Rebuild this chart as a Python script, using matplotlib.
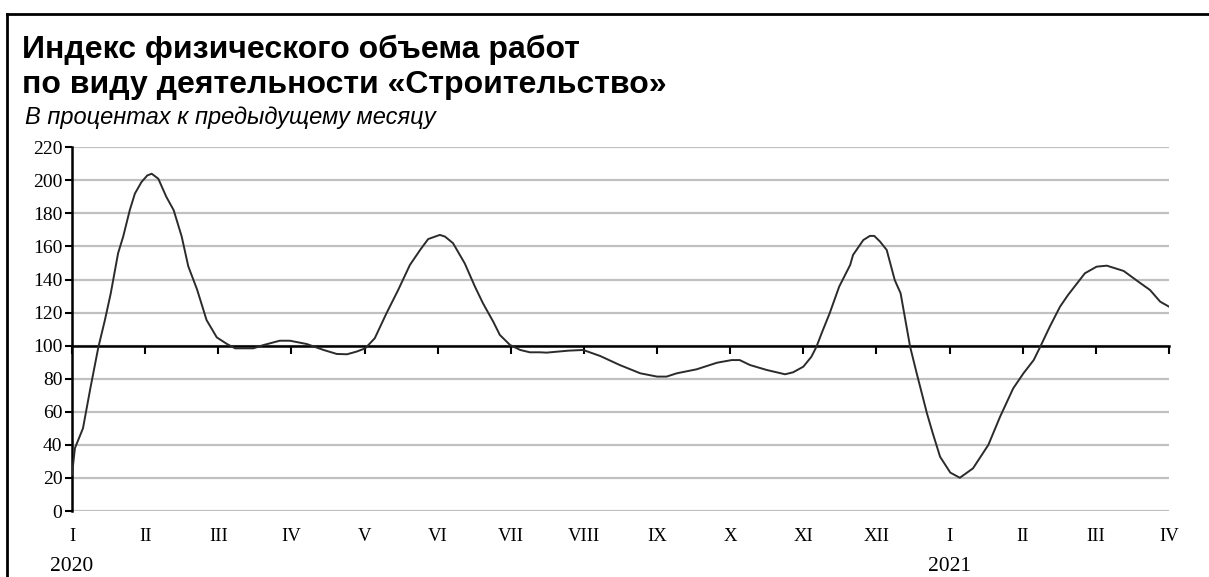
import numpy as np
import matplotlib
matplotlib.use("Agg")
import matplotlib.pyplot as plt
from matplotlib.lines import Line2D

# months since January 2020 (0 = I 2020, 15 = IV 2021) and index values
t = [0.00, 0.04, 0.15, 0.25, 0.36, 0.45, 0.53, 0.63, 0.70, 0.79, 0.86, 0.95,
     1.03, 1.09, 1.18, 1.29, 1.39, 1.50, 1.59, 1.71, 1.84, 1.98, 2.12, 2.23,
     2.48, 2.62, 2.84, 2.98, 3.21, 3.44, 3.62, 3.76, 3.89, 4.01, 4.14, 4.30,
     4.46, 4.62, 4.76, 4.87, 5.03, 5.10, 5.21, 5.37, 5.51, 5.62, 5.76, 5.85,
     5.99, 6.13, 6.26, 6.40, 6.49, 6.79, 6.99, 7.22, 7.49, 7.77, 8.00, 8.13,
     8.27, 8.54, 8.82, 9.02, 9.13, 9.27, 9.50, 9.75, 9.86, 10.00, 10.11, 10.18,
     10.25, 10.36, 10.49, 10.64, 10.68, 10.82, 10.91, 10.97, 11.05, 11.14, 11.25, 11.33,
     11.46, 11.55, 11.69, 11.77, 11.87, 12.01, 12.14, 12.32, 12.53, 12.69, 12.87, 13.01,
     13.15, 13.24, 13.37, 13.51, 13.62, 13.85, 14.01, 14.15, 14.38, 14.60, 14.74, 14.88,
     15.00]
values = [22, 38, 50, 74, 99, 115.5, 131.7, 155.9, 166, 182, 192, 199,
          203, 204, 201, 190, 182, 166, 148, 134, 115.5, 105, 101, 98.4,
          98.4, 100.4, 103, 103, 101, 97.4, 95, 94.8, 96.4, 98.4, 104.5, 119.6,
          133.7, 148.8, 157.9, 164.5, 167, 166, 162, 149.8, 135.7, 125.6, 114.5, 106.5,
          100.4, 97.4, 96, 96, 95.8, 97, 97.4, 93.8, 88.3, 83.3, 81.3, 81.3,
          83.3, 85.7, 89.7, 91.3, 91.3, 88.3, 85.3, 82.7, 83.9, 87.3, 93.3, 99.4,
          107.5, 119.6, 135.7, 148.8, 154.9, 163.9, 166.4, 166.4, 162.9, 157.9, 139.7, 131.7,
          99.4, 83.3, 59.1, 47, 32.8, 23.2, 20.1, 25.8, 40, 57, 74.2, 83.3,
          91.3, 99.4, 111.5, 123.6, 130.7, 143.8, 147.8, 148.4, 145.2, 138.1, 133.7, 126.6,
          123.6]

month_labels = ["I", "II", "III", "IV", "V", "VI", "VII", "VIII", "IX", "X", "XI", "XII",
                "I", "II", "III", "IV"]
year_labels = ["2020", "2021"]
year_pos = [0, 12]

serif = "Liberation Serif"
sans = "Liberation Sans"

fig = plt.figure(figsize=(12.09, 5.77), dpi=100)
ax = fig.add_axes([72 / 1209, 66 / 577, (1169 - 72) / 1209, (511 - 147.3) / 577])

ax.set_xlim(0, 15)
ax.set_ylim(0, 220)

# horizontal grid
ax.set_yticks(np.arange(0, 221, 20))
ax.yaxis.grid(True, color="#c0c0c0", linewidth=1.6)
ax.set_axisbelow(True)
ax.tick_params(axis="y", direction="out", length=5, width=1.5, pad=2,
               labelsize=14, labelfontfamily=serif)

# x axis line sits at 100 with ticks, no labels there
for s in ["top", "right"]:
    ax.spines[s].set_visible(False)
ax.spines["left"].set_linewidth(1.8)
ax.spines["bottom"].set_position(("data", 100))
ax.spines["bottom"].set_linewidth(1.8)
ax.set_xticks(range(16))
ax.tick_params(axis="x", direction="out", length=6, width=1.5, labelbottom=False)

sec = ax.secondary_xaxis("bottom")
sec.set_xticks(range(16))
sec.set_xticklabels(month_labels, fontfamily=serif, fontsize=13.5)
sec.tick_params(length=0, pad=12)
sec.spines["bottom"].set_visible(False)

for pos, lab in zip(year_pos, year_labels):
    ax.text(pos, -0.152, lab, transform=ax.get_xaxis_transform(), ha="center", va="center",
            fontfamily=serif, fontsize=15.5)

ax.plot(t, values, color="#2b2b2b", linewidth=1.4, zorder=3)

# titles
fig.text(22 / 1209, 1 - 58 / 577, "Индекс физического объема работ", fontfamily=sans,
         fontweight="bold", fontsize=23, ha="left", va="baseline")
fig.text(22 / 1209, 1 - 93 / 577, "по виду деятельности «Строительство»", fontfamily=sans,
         fontweight="bold", fontsize=23, ha="left", va="baseline")
fig.text(25 / 1209, 1 - 124 / 577, "В процентах к предыдущему месяцу", fontfamily=sans,
         fontstyle="italic", fontsize=17, ha="left", va="baseline")

# frame around the panel (left and top)
fig.add_artist(Line2D([7 / 1209, 7 / 1209], [0, 1 - 14 / 577], color="black", linewidth=2,
                      transform=fig.transFigure))
fig.add_artist(Line2D([7 / 1209, 1], [1 - 14 / 577, 1 - 14 / 577], color="black", linewidth=2,
                      transform=fig.transFigure))

fig.savefig("out.png", dpi=100)
